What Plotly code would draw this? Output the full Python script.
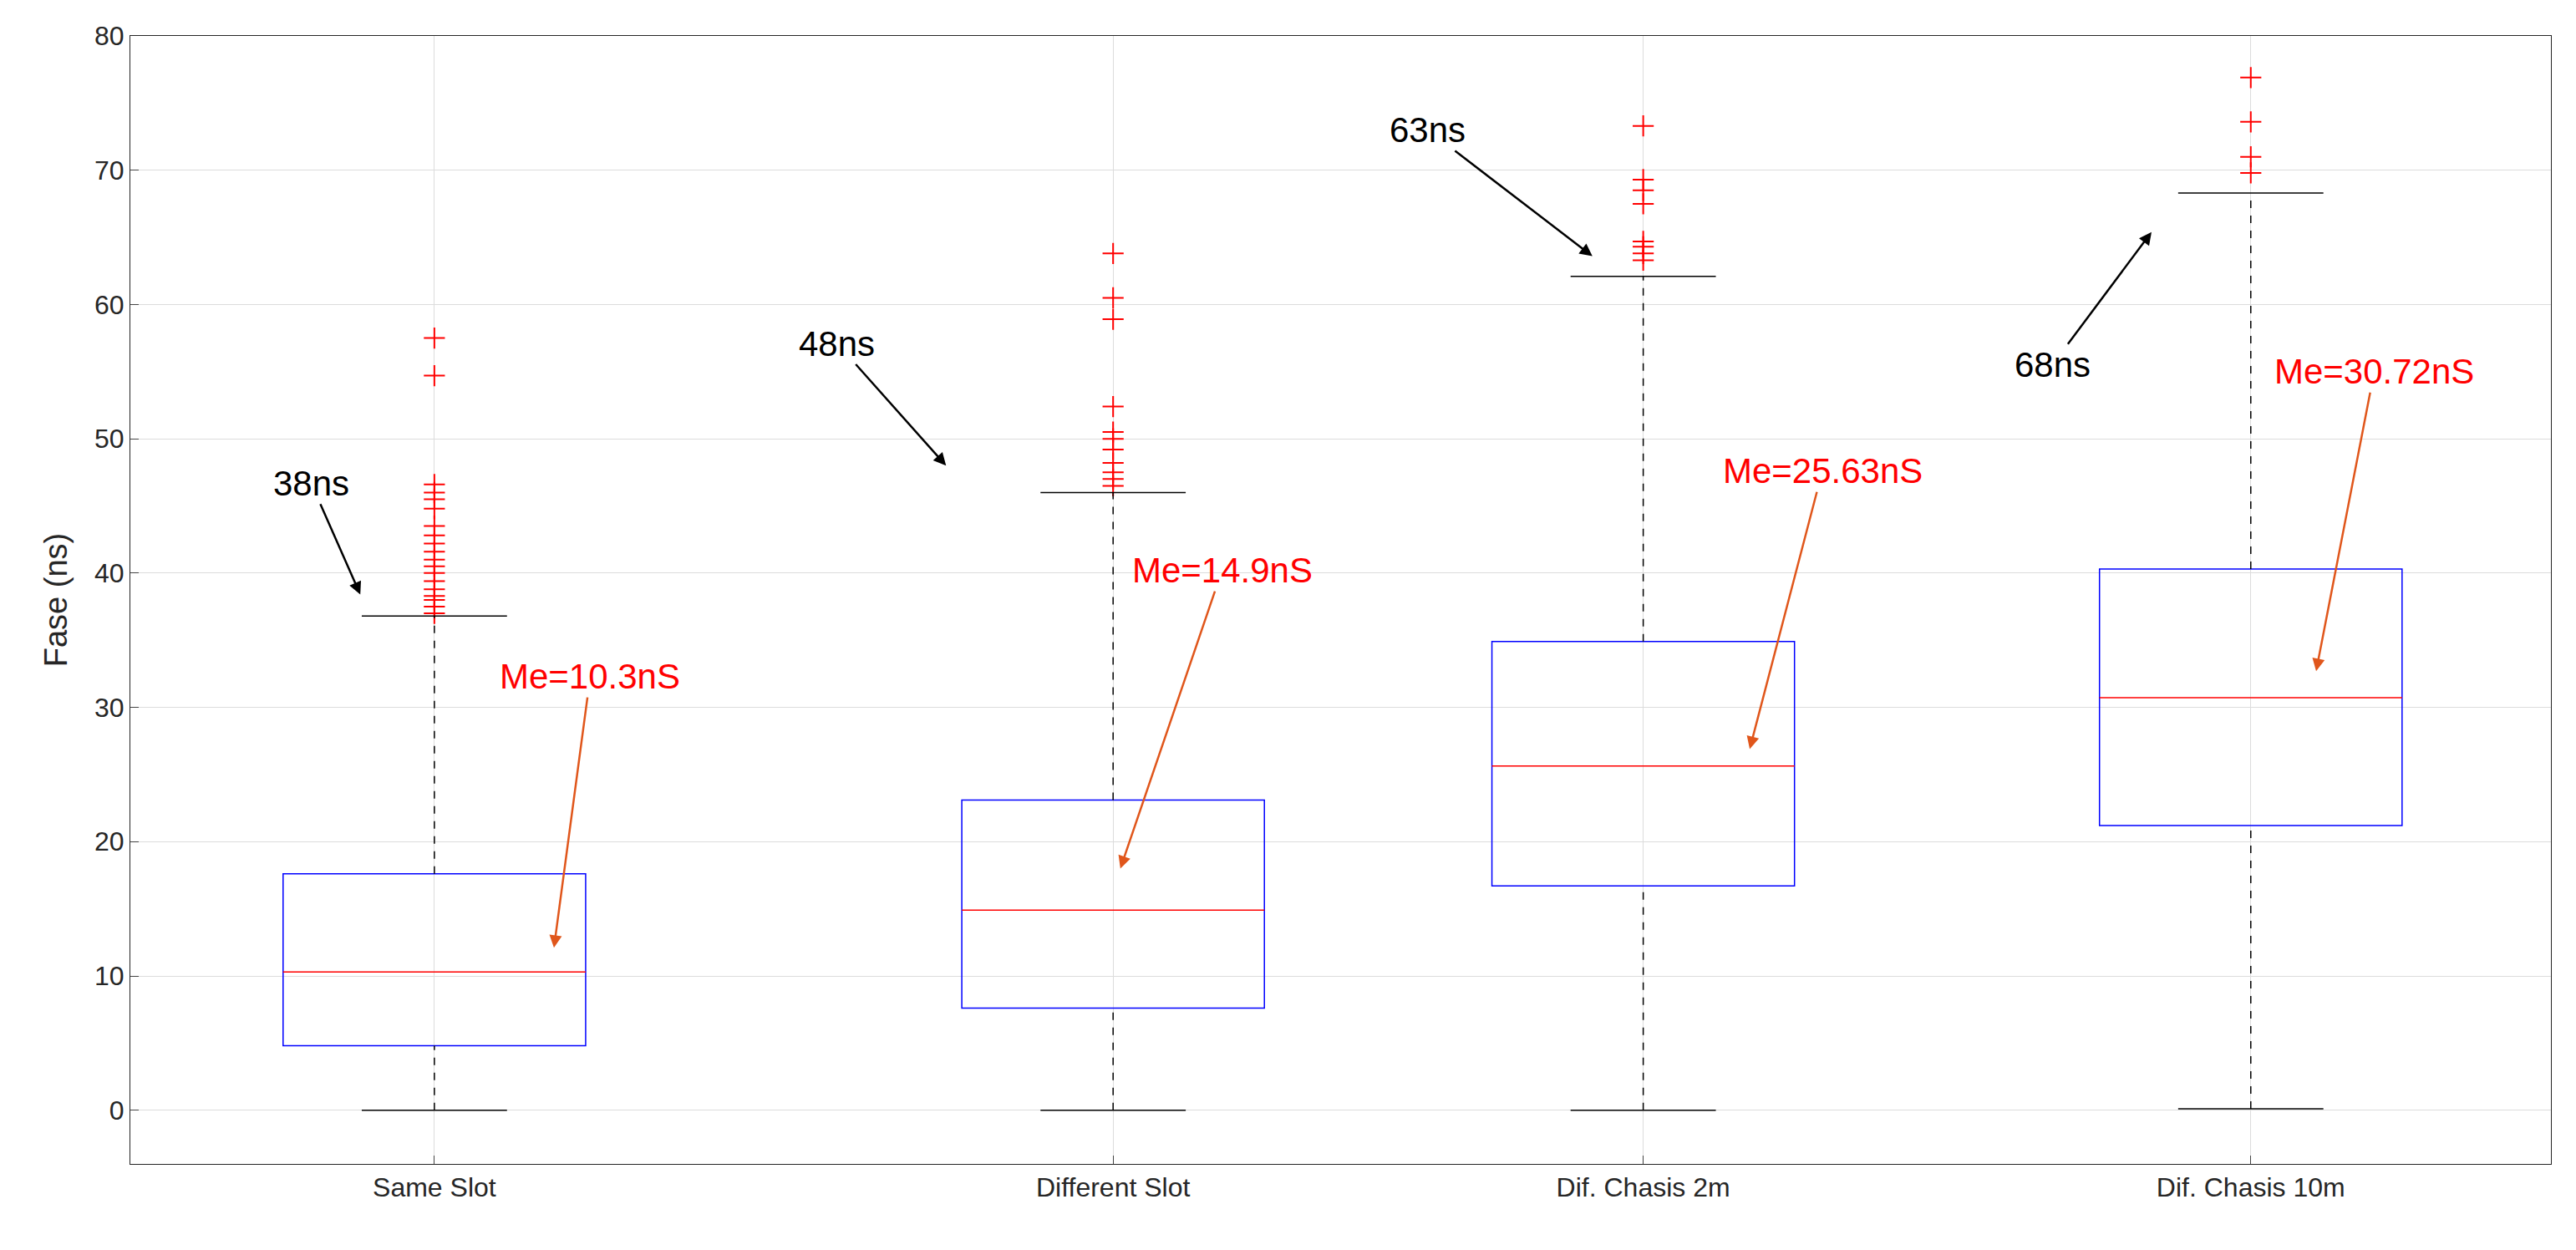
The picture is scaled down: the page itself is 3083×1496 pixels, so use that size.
import plotly.graph_objects as go

categories = ["Same Slot", "Different Slot", "Dif. Chasis 2m", "Dif. Chasis 10m"]
positions = [0.1256, 0.406, 0.625, 0.876]
q1 = [4.8, 7.6, 16.7, 21.2]
median = [10.3, 14.9, 25.63, 30.72]
q3 = [17.6, 23.1, 34.9, 40.3]
lower = [0.0, 0.0, 0.0, 0.1]
upper = [36.8, 46.0, 62.1, 68.3]
outliers = [
    [37.0, 37.5, 38.0, 38.3, 38.8, 39.4, 40.0, 40.5, 41.0, 41.6, 42.2, 42.8, 43.5, 44.8, 45.5, 46.0, 46.6, 54.7, 57.5],
    [46.5, 47.0, 47.5, 48.2, 49.2, 50.0, 50.5, 52.4, 58.9, 60.5, 63.8],
    [63.3, 63.8, 64.3, 64.7, 67.5, 68.5, 69.3, 73.3],
    [69.8, 71.0, 73.6, 76.9],
]
black_notes = [("38ns", 0.0747, 46.7, 0.095, 38.4), ("48ns", 0.292, 57.1, 0.337, 48.0),
               ("63ns", 0.536, 73.0, 0.604, 63.6), ("68ns", 0.794, 55.5, 0.835, 65.4)]
red_notes = [("Me=10.3nS", 0.190, 32.3, 0.175, 12.1), ("Me=14.9nS", 0.451, 40.2, 0.409, 18.0),
             ("Me=25.63nS", 0.699, 47.6, 0.669, 26.9), ("Me=30.72nS", 0.927, 55.0, 0.903, 32.7)]

HW = 0.0625
CW = 0.03
fig = go.Figure()
shapes = []
for i, p in enumerate(positions):
    shapes.append(dict(type="rect", x0=p-HW, x1=p+HW, y0=q1[i], y1=q3[i], line=dict(color="#0000ff", width=1.5)))
    shapes.append(dict(type="line", x0=p-HW, x1=p+HW, y0=median[i], y1=median[i], line=dict(color="#ff0000", width=1.5)))
    shapes.append(dict(type="line", x0=p, x1=p, y0=q3[i], y1=upper[i], line=dict(color="black", width=1.5, dash="dash")))
    shapes.append(dict(type="line", x0=p, x1=p, y0=lower[i], y1=q1[i], line=dict(color="black", width=1.5, dash="dash")))
    shapes.append(dict(type="line", x0=p-CW, x1=p+CW, y0=upper[i], y1=upper[i], line=dict(color="black", width=1.5)))
    shapes.append(dict(type="line", x0=p-CW, x1=p+CW, y0=lower[i], y1=lower[i], line=dict(color="black", width=1.5)))
    fig.add_trace(go.Scatter(x=[p]*len(outliers[i]), y=outliers[i], mode="markers",
                             marker=dict(symbol="cross-thin", size=18, line=dict(color="#ff0000", width=2)),
                             showlegend=False))

anns = []
for t, tx, ty, hx, hy in black_notes:
    anns.append(dict(text=t, x=hx, y=hy, ax=tx, ay=ty, axref="x", ayref="y", xref="x", yref="y",
                     showarrow=True, arrowhead=2, arrowsize=1.2, arrowwidth=2.5, arrowcolor="black",
                     font=dict(size=42, color="black")))
for t, tx, ty, hx, hy in red_notes:
    anns.append(dict(text=t, x=hx, y=hy, ax=tx, ay=ty, axref="x", ayref="y", xref="x", yref="y",
                     showarrow=True, arrowhead=2, arrowsize=1.2, arrowwidth=2.5, arrowcolor="#e0561b",
                     font=dict(size=42, color="#ff0000")))

fig.update_layout(
    width=3083, height=1496, shapes=shapes, annotations=anns,
    paper_bgcolor="white", plot_bgcolor="white",
    font=dict(family="Liberation Sans, Arial", size=32, color="#262626"),
    margin=dict(l=148, r=38, t=35, b=111),
    xaxis=dict(range=[0, 1], tickvals=positions, ticktext=categories, showgrid=True, gridcolor="#dcdcdc",
               showline=True, linecolor="#262626", mirror=True, ticks="inside", ticklen=10, zeroline=False),
    yaxis=dict(range=[-4, 80], dtick=10, title=dict(text="Fase (ns)", standoff=20), showgrid=True, gridcolor="#dcdcdc",
               showline=True, linecolor="#262626", mirror=True, ticks="inside", ticklen=10, zeroline=False),
)
fig.write_html("out.html")
